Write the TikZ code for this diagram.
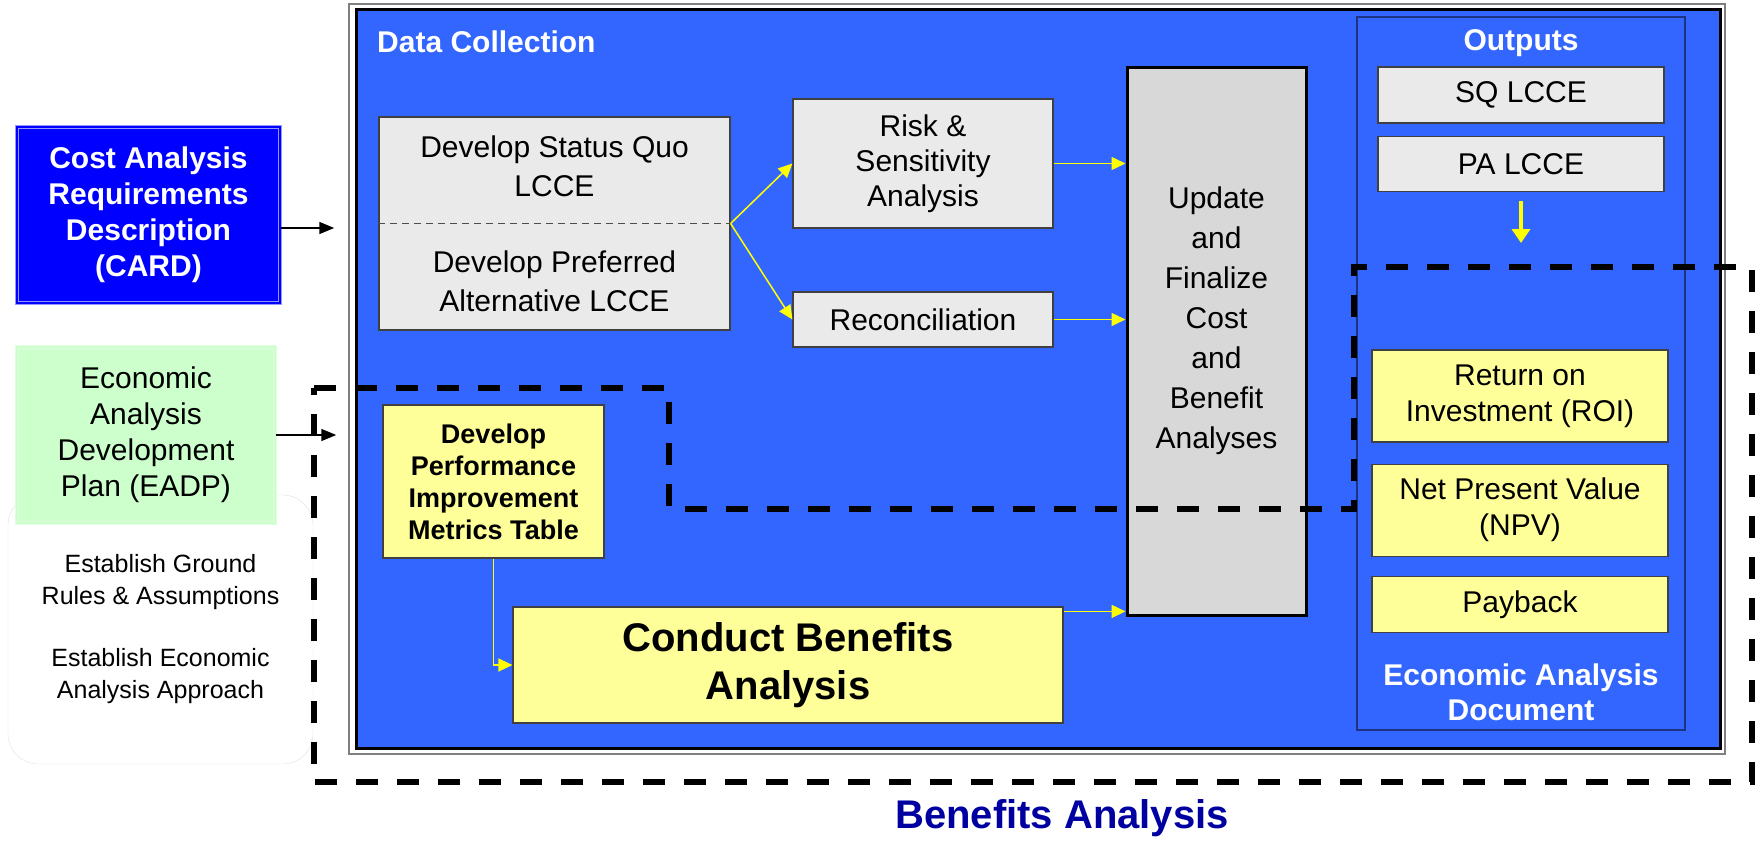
\documentclass[tikz,border=0pt]{standalone}
\usepackage{fontspec}
\setmainfont{Liberation Sans}
\usetikzlibrary{arrows.meta, positioning, calc}
\definecolor{eaBlue}{RGB}{51, 102, 255}
\definecolor{eaCard}{RGB}{0, 0, 255}
\definecolor{eaCardEdge}{RGB}{150, 150, 255}
\definecolor{eaGreen}{RGB}{204, 255, 204}
\definecolor{eaGray}{RGB}{234, 234, 234}
\definecolor{eaUpdate}{RGB}{216, 216, 216}
\definecolor{eaYellow}{RGB}{255, 255, 153}
\definecolor{eaArrow}{RGB}{255, 255, 0}
\definecolor{eaEdge}{RGB}{30, 50, 130}
\definecolor{eaTitle}{RGB}{0, 0, 160}

\begin{document}
\begin{tikzpicture}[x=1pt, y=-1pt,
        txt/.style={align=center, inner sep=0pt, font=\fontsize{30}{36}\selectfont},
        headtxt/.style={align=center, inner sep=0pt, text=white, font=\fontsize{30}{35}\selectfont\bfseries},
        graybox/.style={rectangle, draw=black!75, line width=1.2pt, fill=eaGray, inner sep=0pt, align=center, font=\fontsize{30}{36}\selectfont},
        yellowbox/.style={graybox, fill=eaYellow},
        arrow/.style={-{Triangle[length=15pt, width=12pt]}, line width=1.5pt, black},
        yarrow/.style={-{Triangle[length=14pt, width=13pt]}, line width=1.5pt, eaArrow},
        bigarrow/.style={-{Triangle[length=14pt, width=18pt]}, line width=4pt, eaArrow}
    ]
        \useasboundingbox (0,0) rectangle (1758,856);

        % Inputs
        \node[rectangle, fill=eaCard, draw=eaCardEdge, double=eaCard, double distance=2pt, line width=1pt, minimum width=263pt, minimum height=176pt, align=center, text=white, font=\fontsize{30}{36}\selectfont\bfseries] (card) at (148.5, 215) {Cost Analysis\\Requirements\\Description\\(CARD)};
        \node[rectangle, rounded corners=30pt, draw=black!12, fill=white, minimum width=305pt, minimum height=269pt, align=center, font=\fontsize{25}{32}\selectfont] (ground) at (160.5, 629.5) {Establish Ground\\Rules \& Assumptions\\[30pt]Establish Economic\\Analysis Approach};
        \node[rectangle, fill=eaGreen, draw=green!12!white, double=eaGreen, double distance=2pt, line width=1pt, minimum width=258pt, minimum height=176pt, align=center, font=\fontsize{30}{36}\selectfont] (eadp) at (146, 435) {Economic\\Analysis\\Development\\Plan (EADP)};

        % Frame
        \node[rectangle, draw=gray, line width=1.5pt, minimum width=1376pt, minimum height=750pt] (frame) at (1037, 379) {};
        \node[rectangle, draw=black, line width=3pt, fill=eaBlue, minimum width=1364pt, minimum height=738pt] (inner) at (1038, 379) {};
        \node[headtxt, anchor=base west] (dc) at (377, 53) {Data Collection};

        \draw[arrow, shorten >=14pt] ([yshift=-13pt]card.east) -- ([yshift=-13pt]card.east -| frame.west);
        \draw[arrow, shorten >=12pt] (eadp.east) -- (eadp.east -| frame.west);

        % Data collection
        \node[graybox, minimum width=351pt, minimum height=213pt] (lcce) at (554.5, 223.5) {};
        \node[txt, font=\fontsize{30}{39}\selectfont] (sq) at (554.5, 166) {Develop Status Quo\\LCCE};
        \node[txt, font=\fontsize{30}{39}\selectfont] (pa) at (554.5, 281) {Develop Preferred\\Alternative LCCE};
        \draw[black!70, line width=1pt, dash pattern=on 7pt off 5pt] (lcce.west) -- (lcce.east);

        \node[graybox, minimum width=260pt, minimum height=129pt, font=\fontsize{30}{35}\selectfont] (risk) at (923, 163.5) {Risk \&\\Sensitivity\\Analysis};
        \node[graybox, minimum width=260pt, minimum height=55pt] (rec) at (923, 319.5) {Reconciliation};

        \draw[yarrow] (lcce.east) -- (risk.west);
        \draw[yarrow] (lcce.east) -- (rec.west);

        % Update
        \node[rectangle, draw=black, line width=3pt, fill=eaUpdate, minimum width=179pt, minimum height=547pt] (upd) at (1216.5, 341.5) {};
        \node[txt, font=\fontsize{30}{40}\selectfont] (updtxt) at (1216.5, 321) {Update\\and\\Finalize\\Cost\\and\\Benefit\\Analyses};

        \draw[yarrow] (risk.east) -- (risk.east -| upd.west);
        \draw[yarrow] (rec.east) -- (rec.east -| upd.west);

        % Benefits
        \node[yellowbox, minimum width=221pt, minimum height=153pt, font=\fontsize{27}{32}\selectfont\bfseries] (perf) at (493.5, 481.5) {Develop\\Performance\\Improvement\\Metrics Table};
        \node[yellowbox, minimum width=550pt, minimum height=116pt, font=\fontsize{40}{48}\selectfont\bfseries] (cba) at (788, 665) {Conduct Benefits\\Analysis};

        \draw[yarrow] (perf.south) |- (cba.west);
        \draw[yarrow] ([yshift=-5pt]cba.north east) -- ([yshift=-5pt]cba.north east -| upd.west);

        % Outputs
        \node[rectangle, draw=eaEdge, line width=1.2pt, fill=eaBlue, minimum width=328pt, minimum height=713pt] (outp) at (1521, 373.5) {};
        \node[headtxt] (outtitle) at (1521, 43) {Outputs};
        \node[graybox, minimum width=286pt, minimum height=56pt] (sqlcce) at (1521, 95) {SQ LCCE};
        \node[graybox, minimum width=286pt, minimum height=55pt, below=12pt of sqlcce] (palcce) {PA LCCE};
        \coordinate (docin) at (1521, 243);
        \draw[bigarrow] ([yshift=-9pt]palcce.south) -- (docin);

        \node[yellowbox, minimum width=296pt, minimum height=92pt] (roi) at (1520, 396) {Return on\\Investment (ROI)};
        \node[yellowbox, minimum width=296pt, minimum height=92pt, below=21pt of roi] (npv) {Net Present Value\\(NPV)};
        \node[yellowbox, minimum width=296pt, minimum height=56pt, below=19pt of npv] (pay) {Payback};
        \node[headtxt] (eadoc) at (1521, 692) {Economic Analysis\\Document};

        % Benefits analysis boundary
        \draw[line width=6pt, dash pattern=on 22pt off 19pt] (314, 388) -- (669, 388) -- (669, 509) -- (1354, 509) -- (1354, 267) -- (1752, 267) -- (1752, 782) -- (314, 782) -- cycle;
        \node[font=\fontsize{40}{48}\selectfont\bfseries, text=eaTitle] (title) at (1062, 818) {Benefits Analysis};
    \end{tikzpicture}
\end{document}
